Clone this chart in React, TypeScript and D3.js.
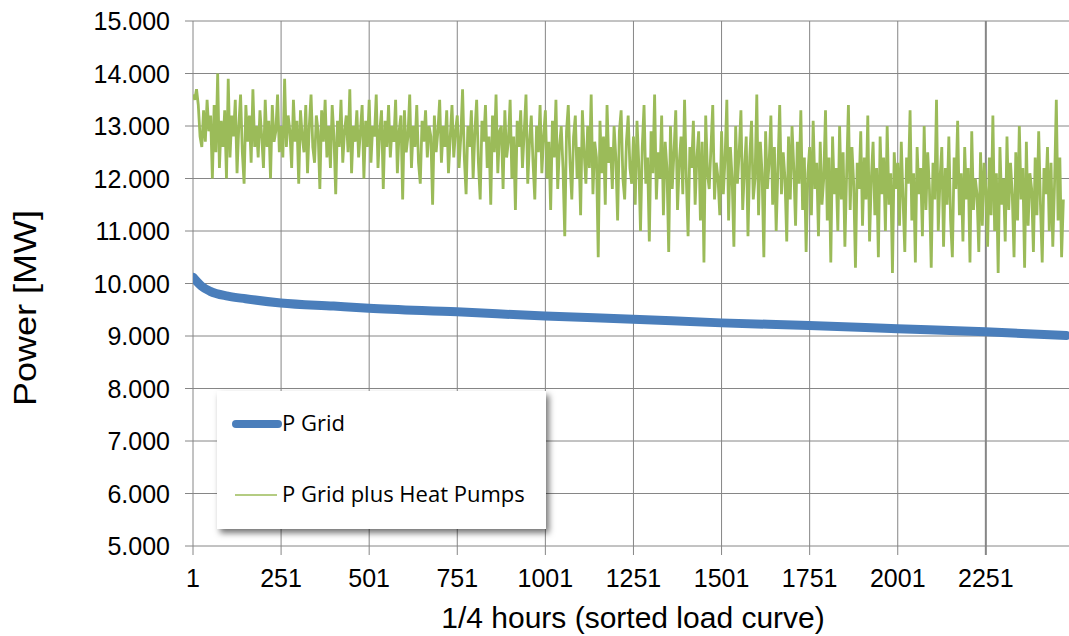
import React from "react";
import * as d3 from "d3";

const W = 1069;
const H = 636;

const yTicks = [5, 6, 7, 8, 9, 10, 11, 12, 13, 14, 15];
const xTicks = [1, 251, 501, 751, 1001, 1251, 1501, 1751, 2001, 2251];

// P Grid (sorted load curve) key points: [quarter-hour index, MW thousands]
const gridIdx = [1, 10, 25, 50, 100, 150, 250, 400, 500, 750, 1000, 1250, 1500, 1750, 2000, 2250, 2480];
const gridVal = [10.12, 10.05, 9.95, 9.85, 9.76, 9.71, 9.63, 9.57, 9.53, 9.46, 9.38, 9.32, 9.25, 9.2, 9.14, 9.08, 9.01];

// P Grid plus Heat Pumps, sampled every 5 quarter hours
const hpStep = 5;
const hpVal = [
  13.6, 13.5, 13.7, 13.4, 12.8, 12.6, 13.3, 12.7, 13.5, 12.9, 13.2, 12.0, 13.4, 12.5, 14.0, 12.2, 13.1, 12.6, 13.3, 12.0, 13.9, 12.4, 13.2, 12.8, 13.5, 12.1, 13.0, 13.6, 12.5, 11.9, 13.4, 12.7, 13.2, 12.3, 13.7, 12.6, 13.0, 12.4, 13.3, 12.8, 12.2, 13.5, 12.6, 13.1, 12.0, 13.4, 12.7, 12.9, 13.6, 12.5,
  13.0, 12.4, 13.9, 12.6, 13.2, 12.9, 12.2, 13.5, 12.7, 13.1, 11.9, 13.3, 12.8, 12.5, 13.4, 12.1, 13.0, 13.6, 12.6, 12.3, 13.2, 12.9, 11.8, 13.3, 12.7, 13.5, 12.4, 13.0, 12.2, 13.4, 12.8, 11.7, 13.1, 12.6, 13.5, 12.3, 12.9, 13.2, 12.5, 13.7, 12.1, 13.0, 12.7, 13.3, 12.4, 12.9, 13.4, 12.0, 13.1, 12.6,
  13.5, 12.3, 13.0, 12.8, 13.6, 12.2, 12.9, 13.3, 11.8, 13.1, 12.6, 13.4, 12.4, 13.0, 12.7, 13.5, 12.1, 12.9, 13.2, 11.6, 13.3, 12.5, 12.8, 13.6, 12.2, 13.0, 12.6, 13.4, 12.3, 11.9, 13.1, 12.7, 13.3, 12.4, 13.0, 12.8, 11.5, 13.2, 12.5, 12.9, 13.5, 12.3, 13.0, 12.6, 13.3, 12.1, 12.8, 13.4, 12.4, 12.9,
  13.2, 12.2, 12.8, 13.7, 12.4, 11.7, 13.0, 12.6, 13.3, 12.0, 12.9, 13.5, 12.3, 11.6, 13.1, 12.7, 13.4, 12.2, 12.8, 11.5, 13.2, 12.5, 13.6, 12.1, 12.9, 13.0, 11.8, 13.3, 12.4, 12.7, 13.5, 12.0, 12.8, 11.4, 13.1, 12.6, 13.3, 12.2, 12.9, 13.6, 11.9, 12.7, 13.2, 12.3, 11.6, 13.0, 12.5, 13.4, 12.1, 12.8,
  13.3, 12.0, 12.7, 11.4, 13.1, 12.4, 13.5, 11.8, 12.6, 13.0, 12.2, 10.9, 12.9, 13.4, 12.3, 11.6, 12.8, 13.2, 12.0, 12.6, 11.3, 13.3, 12.5, 11.9, 13.0, 12.2, 13.6, 11.7, 12.7, 12.4, 10.5, 13.1, 12.1, 12.8, 11.5, 13.4, 12.3, 12.6, 11.8, 13.0, 12.4, 11.2, 12.9, 13.3, 12.0, 11.6, 12.7, 13.2, 12.2, 11.9,
  12.8, 11.5, 13.1, 12.3, 11.0, 12.6, 13.4, 11.9, 12.4, 10.8, 12.9, 12.1, 13.6, 11.6, 12.5, 12.0, 13.2, 11.3, 12.7, 12.2, 10.6, 13.0, 11.8, 12.5, 13.3, 11.4, 12.3, 12.8, 11.7, 13.5, 12.0, 10.9, 12.6, 12.2, 13.1, 11.5, 12.4, 12.9, 11.2, 12.7, 10.4, 13.2, 12.1, 11.8, 12.6, 13.4, 11.6, 12.3, 12.0, 11.3,
  12.9, 11.7, 12.4, 13.5, 11.2, 12.6, 12.0, 10.7, 13.0, 11.9, 12.5, 13.3, 11.4, 12.2, 12.8, 10.9, 12.4, 13.1, 11.6, 12.0, 13.6, 11.3, 12.7, 12.1, 10.5, 12.9, 11.8, 12.3, 13.2, 11.5, 12.6, 11.0, 12.2, 13.4, 11.7, 12.5, 12.0, 10.8, 12.8, 11.6, 13.0, 12.2, 11.1, 12.7, 11.9, 13.3, 11.4, 12.4, 10.6, 12.1,
  12.6, 11.3, 13.1, 11.8, 12.3, 10.9, 12.7, 11.5, 12.0, 13.3, 11.2, 12.4, 10.4, 12.8, 11.7, 12.2, 11.0, 13.0, 11.6, 12.5, 10.7, 12.1, 13.4, 11.4, 12.6, 11.9, 10.3, 12.3, 11.8, 12.9, 11.1, 12.4, 11.6, 13.2, 10.8, 12.0, 12.7, 11.3, 12.2, 10.5, 12.8, 11.7, 12.4, 11.0, 13.0, 11.5, 12.1, 10.2, 12.5, 11.8,
  12.3, 11.1, 12.7, 11.6, 10.6, 12.4, 11.9, 13.3, 11.2, 12.1, 10.4, 12.6, 11.7, 12.2, 10.9, 13.0, 11.4, 12.5, 11.8, 10.3, 12.3, 11.6, 13.5, 11.0, 12.0, 12.6, 10.7, 12.2, 11.5, 12.8, 11.2, 10.5, 12.4, 11.8, 13.1, 11.3, 12.1, 10.8, 12.6, 11.6, 12.2, 10.4, 12.9, 11.4, 12.0, 11.7, 10.6, 12.5, 11.1, 12.3,
  11.8, 10.7, 12.4, 11.3, 13.2, 11.0, 12.1, 10.2, 12.6, 11.5, 12.0, 10.8, 12.8, 11.4, 12.3, 11.7, 10.5, 12.5, 11.2, 13.0, 11.6, 12.2, 10.3, 12.7, 11.1, 12.1, 11.8, 10.6, 12.4, 11.3, 12.9, 11.5, 10.4, 12.2, 11.7, 12.6, 11.0, 12.3, 10.7, 11.9, 13.5, 11.2, 12.4, 10.5, 11.6,
];

const seriesNames = ["P Grid", "P Grid plus Heat Pumps"];
const colors = ["#4A7EBB", "#9BBB59"];

const fmt = (v: number) => v.toFixed(3);

export default function App() {
  const m = { left: 193, right: 1069, top: 21, bottom: 546 };
  const x = d3.scaleLinear().domain([1, 2487]).range([m.left, m.right]);
  const y = d3.scaleLinear().domain([5, 15]).range([m.bottom, m.top]);

  const gridPts: [number, number][] = gridIdx.map((d, i) => [d, gridVal[i]]);
  const gridLine = d3
    .line<[number, number]>()
    .x((d) => x(d[0]))
    .y((d) => y(d[1]))
    .curve(d3.curveMonotoneX)(gridPts) as string;

  const hpLine = d3
    .line<number>()
    .x((_, i) => x(1 + i * hpStep))
    .y((d) => y(d))(hpVal) as string;

  const gridColor = "#868686";
  const axisFont = "'Liberation Sans', Arial, sans-serif";
  const legendFont = "'Open Sans', sans-serif";

  return (
    <svg
      width={W}
      height={H}
      style={{ position: "absolute", left: 0, top: 0, background: "#fff" }}
    >
      <defs>
        <filter id="shadow" x="-10%" y="-10%" width="130%" height="140%">
          <feDropShadow dx="3" dy="4" stdDeviation="3" floodColor="#000" floodOpacity="0.55" />
        </filter>
        <clipPath id="plotclip">
          <rect x={m.left} y={m.top - 5} width={m.right - m.left} height={m.bottom - m.top + 10} />
        </clipPath>
      </defs>
      <rect x={0} y={0} width={W} height={H} fill="#fff" />

      {yTicks.map((t) => (
        <line
          key={"hy" + t}
          x1={m.left - 8}
          x2={m.right}
          y1={y(t)}
          y2={y(t)}
          stroke={gridColor}
          strokeWidth={1}
        />
      ))}
      {xTicks.map((t) => (
        <line
          key={"vx" + t}
          x1={x(t)}
          x2={x(t)}
          y1={m.top}
          y2={m.bottom + 9}
          stroke={gridColor}
          strokeWidth={t === 2251 ? 2 : 1}
        />
      ))}

      {yTicks.map((t) => (
        <text
          key={"yl" + t}
          x={170}
          y={y(t)}
          dy="0.36em"
          textAnchor="end"
          fontFamily={axisFont}
          fontSize={25}
          fill="#000"
        >
          {fmt(t)}
        </text>
      ))}
      {xTicks.map((t) => (
        <text
          key={"xl" + t}
          x={x(t)}
          y={587}
          textAnchor="middle"
          fontFamily={axisFont}
          fontSize={25}
          fill="#000"
        >
          {t}
        </text>
      ))}

      <g clipPath="url(#plotclip)">
        <path d={hpLine} fill="none" stroke={colors[1]} strokeWidth={2.8} strokeLinejoin="bevel" />
        <path d={gridLine} fill="none" stroke={colors[0]} strokeWidth={9} strokeLinecap="round" />
      </g>

      <text
        x={633}
        y={628}
        textAnchor="middle"
        fontFamily={axisFont}
        fontSize={30}
        fill="#000"
      >
        1/4 hours (sorted load curve)
      </text>
      <text
        transform="translate(36,308) rotate(-90)"
        textAnchor="middle"
        fontFamily={axisFont}
        fontSize={31}
        textLength={196}
        lengthAdjust="spacingAndGlyphs"
        fill="#000"
      >
        Power [MW]
      </text>

      <g>
        <rect x={217} y={391} width={329} height={138} fill="#fff" filter="url(#shadow)" />
        <line x1={236} x2={278} y1={424} y2={424} stroke={colors[0]} strokeWidth={8} strokeLinecap="round" />
        <text x={282} y={431} fontFamily={legendFont} fontSize={22} fill="#000">
          {seriesNames[0]}
        </text>
        <line x1={235} x2={277} y1={495} y2={495} stroke={colors[1]} strokeWidth={1.5} />
        <text x={282} y={502} fontFamily={legendFont} fontSize={22} fill="#000">
          {seriesNames[1]}
        </text>
      </g>
    </svg>
  );
}
